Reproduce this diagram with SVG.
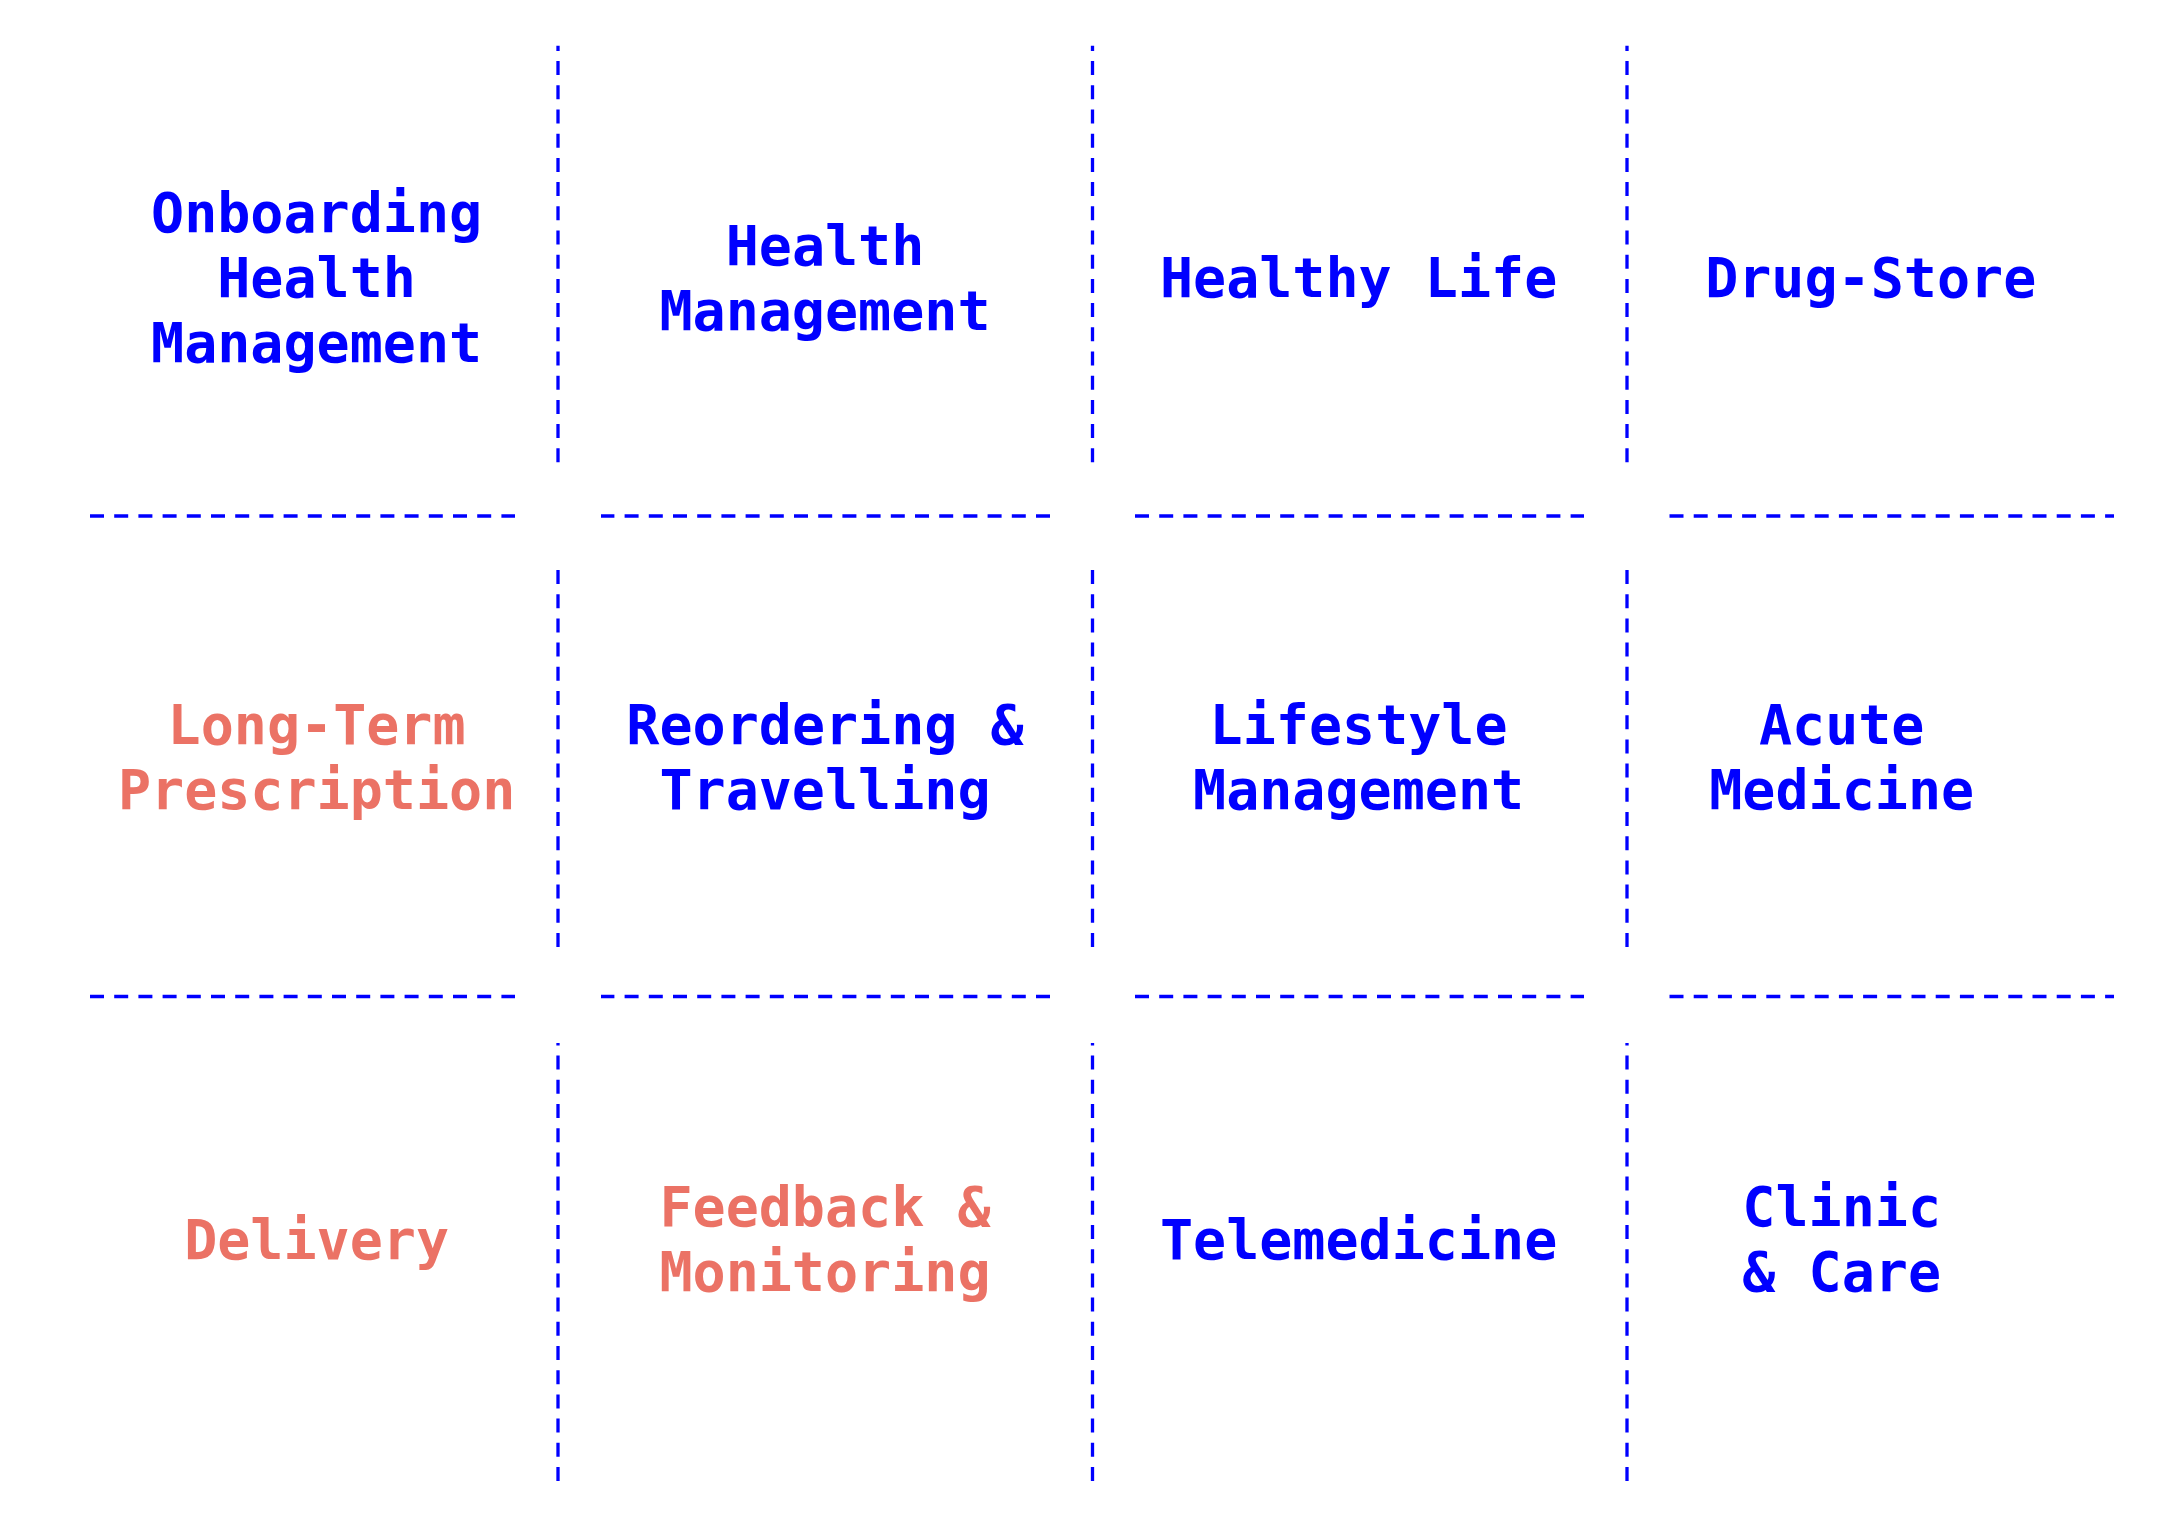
<svg xmlns="http://www.w3.org/2000/svg" width="2176" height="1518" viewBox="0 0 2176 1518">
<style>
.bg{fill:#ffffff}
.grid line{stroke:#0000ff;stroke-width:3.3;stroke-dasharray:14 10.2;fill:none}
text{font-family:"DejaVu Sans Mono","Liberation Mono",monospace;font-weight:bold;font-size:55px;text-anchor:middle}
.b{fill:#0000ff}
.c{fill:#eb7265}
</style>
<rect class="bg" x="0" y="0" width="2176" height="1518"/>
<g id="connectors" class="grid">
<line x1="558" y1="462.3" x2="558" y2="45.7"/>
<line x1="1092.5" y1="462.3" x2="1092.5" y2="45.7"/>
<line x1="1627" y1="462.3" x2="1627" y2="45.7"/>
<line x1="558" y1="947" x2="558" y2="569"/>
<line x1="1092.5" y1="947" x2="1092.5" y2="569"/>
<line x1="1627" y1="947" x2="1627" y2="569"/>
<line x1="558" y1="1481" x2="558" y2="1043"/>
<line x1="1092.5" y1="1481" x2="1092.5" y2="1043"/>
<line x1="1627" y1="1481" x2="1627" y2="1043"/>
<line x1="90" y1="516" x2="515" y2="516"/>
<line x1="1050" y1="516" x2="601" y2="516"/>
<line x1="1135" y1="516" x2="1584" y2="516"/>
<line x1="1669.5" y1="516" x2="2114" y2="516"/>
<line x1="90" y1="996.5" x2="515" y2="996.5"/>
<line x1="1050" y1="996.5" x2="601" y2="996.5"/>
<line x1="1135" y1="996.5" x2="1584" y2="996.5"/>
<line x1="1669.5" y1="996.5" x2="2114" y2="996.5"/>
</g>
<g id="onboarding-health-management"><text class="b" x="316.6" y="232">Onboarding</text><text class="b" x="316.6" y="297">Health</text><text class="b" x="316.6" y="362">Management</text></g>
<g id="health-management"><text class="b" x="825" y="265">Health</text><text class="b" x="825" y="330">Management</text></g>
<g id="healthy-life"><text class="b" x="1358.6" y="297">Healthy Life</text></g>
<g id="drug-store"><text class="b" x="1870.7" y="297">Drug-Store</text></g>
<g id="long-term-prescription"><text class="c" x="316.6" y="744">Long-Term</text><text class="c" x="316.6" y="809">Prescription</text></g>
<g id="reordering-travelling"><text class="b" x="825" y="744">Reordering &amp;</text><text class="b" x="825" y="809">Travelling</text></g>
<g id="lifestyle-management"><text class="b" x="1358.6" y="744">Lifestyle</text><text class="b" x="1358.6" y="809">Management</text></g>
<g id="acute-medicine"><text class="b" x="1841.7" y="744">Acute</text><text class="b" x="1841.7" y="809">Medicine</text></g>
<g id="delivery"><text class="c" x="316.6" y="1259">Delivery</text></g>
<g id="feedback-monitoring"><text class="c" x="825" y="1226">Feedback &amp;</text><text class="c" x="825" y="1291">Monitoring</text></g>
<g id="telemedicine"><text class="b" x="1358.6" y="1259">Telemedicine</text></g>
<g id="clinic-care"><text class="b" x="1841.7" y="1226">Clinic</text><text class="b" x="1841.7" y="1291">&amp; Care</text></g>
</svg>
